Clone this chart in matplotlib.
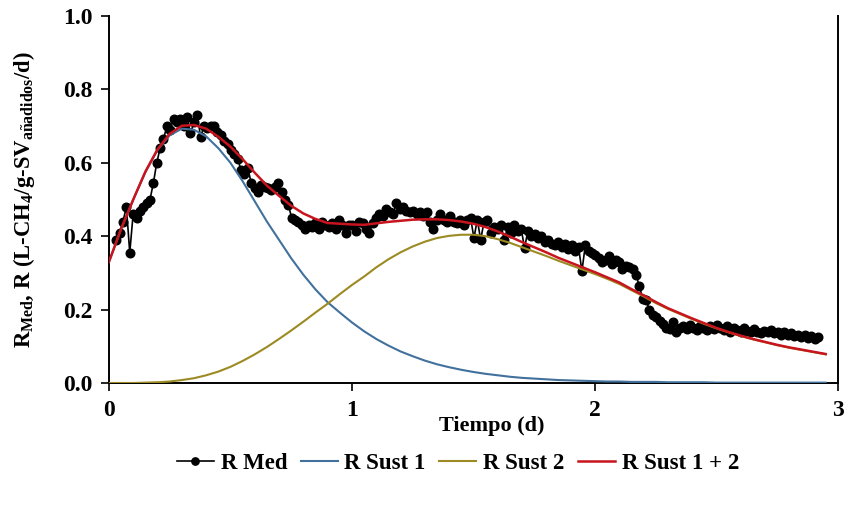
import matplotlib
matplotlib.use("Agg")
import matplotlib.pyplot as plt
import numpy as np

# measured methane production rate, one reading every 20 min from t = 0.03 d
r_med = [
    0.39, 0.41, 0.44, 0.48, 0.355, 0.46, 0.45, 0.47, 0.48, 0.49,
    0.50, 0.545, 0.60, 0.64, 0.665, 0.70, 0.69, 0.72, 0.71, 0.72,
    0.70, 0.725, 0.68, 0.71, 0.73, 0.67, 0.70, 0.695, 0.70, 0.70,
    0.685, 0.675, 0.66, 0.65, 0.635, 0.625, 0.61, 0.58, 0.57, 0.585,
    0.545, 0.53, 0.52, 0.54, 0.535, 0.53, 0.525, 0.535, 0.545, 0.52,
    0.50, 0.485, 0.45, 0.445, 0.44, 0.43, 0.42, 0.43, 0.425, 0.435,
    0.42, 0.44, 0.43, 0.425, 0.435, 0.42, 0.445, 0.43, 0.41, 0.43,
    0.43, 0.415, 0.44, 0.435, 0.42, 0.41, 0.435, 0.45, 0.46, 0.455,
    0.475, 0.465, 0.46, 0.49, 0.475, 0.48, 0.47, 0.465, 0.47, 0.46,
    0.465, 0.455, 0.465, 0.44, 0.42, 0.445, 0.46, 0.445, 0.44, 0.455,
    0.44, 0.435, 0.445, 0.43, 0.445, 0.45, 0.395, 0.445, 0.39, 0.44,
    0.445, 0.41, 0.425, 0.42, 0.43, 0.39, 0.425, 0.41, 0.43, 0.415,
    0.42, 0.368, 0.415, 0.40, 0.405, 0.395, 0.40, 0.385, 0.39, 0.38,
    0.375, 0.385, 0.37, 0.38, 0.365, 0.375, 0.36, 0.37, 0.305, 0.375,
    0.36, 0.355, 0.35, 0.34, 0.33, 0.335, 0.345, 0.325, 0.335, 0.33,
    0.31, 0.32, 0.315, 0.31, 0.295, 0.265, 0.23, 0.225, 0.20, 0.185,
    0.18, 0.17, 0.16, 0.15, 0.148, 0.165, 0.14, 0.15, 0.155, 0.148,
    0.158, 0.15, 0.145, 0.155, 0.15, 0.145, 0.155, 0.148, 0.158, 0.15,
    0.145, 0.155, 0.14, 0.15, 0.145, 0.14, 0.15, 0.142, 0.138, 0.148,
    0.14, 0.135, 0.142, 0.138, 0.145, 0.135, 0.14, 0.132, 0.138, 0.13,
    0.135, 0.128, 0.132, 0.125, 0.13, 0.122, 0.128, 0.12, 0.125,
]
t_med = 0.03 + np.arange(len(r_med)) / 72.0

# fitted substrate curves, sampled every 0.05 d from 0 to 2.95 d
t_fit = np.arange(60) * 0.05
r_sust1 = [
    0.330, 0.420, 0.500, 0.575, 0.635, 0.675, 0.693, 0.690, 0.672, 0.640,
    0.600, 0.550, 0.495, 0.440, 0.390, 0.340, 0.295, 0.255, 0.220, 0.192,
    0.165, 0.141, 0.120, 0.102, 0.086, 0.073, 0.061, 0.051, 0.043, 0.036,
    0.030, 0.025, 0.021, 0.017, 0.014, 0.012, 0.010, 0.008, 0.007, 0.006,
    0.005, 0.004, 0.004, 0.003, 0.003, 0.003, 0.002, 0.002, 0.002, 0.002,
    0.001, 0.001, 0.001, 0.001, 0.001, 0.001, 0.001, 0.001, 0.001, 0.001,
]
r_sust2 = [
    0.000, 0.000, 0.000, 0.001, 0.002, 0.004, 0.008, 0.013, 0.021, 0.031,
    0.044, 0.060, 0.078, 0.098, 0.120, 0.143, 0.167, 0.192, 0.216, 0.242,
    0.267, 0.290, 0.315, 0.337, 0.356, 0.372, 0.385, 0.395, 0.401, 0.404,
    0.404, 0.400, 0.392, 0.382, 0.370, 0.358, 0.346, 0.333, 0.321, 0.309,
    0.297, 0.284, 0.270, 0.253, 0.236, 0.218, 0.202, 0.188, 0.174, 0.161,
    0.149, 0.138, 0.128, 0.119, 0.111, 0.103, 0.096, 0.090, 0.084, 0.078,
]
r_total = np.array(r_sust1) + np.array(r_sust2)

plt.rcParams["font.family"] = "Liberation Serif"
plt.rcParams["font.weight"] = "bold"
plt.rcParams["mathtext.fontset"] = "custom"
plt.rcParams["mathtext.rm"] = "Liberation Serif:bold"
plt.rcParams["mathtext.it"] = "Liberation Serif:bold"
plt.rcParams["mathtext.bf"] = "Liberation Serif:bold"

fig = plt.figure(figsize=(8.48, 5.07), dpi=100)
ax = fig.add_axes([0.1285, 0.2446, 0.8595, 0.7238])

ax.plot(t_med, r_med, "-o", color="black", lw=1.2, ms=6.2, label="R Med", zorder=2)
ax.plot(t_fit, r_sust1, color="#41719C", lw=1.5, label="R Sust 1", zorder=3)
ax.plot(t_fit, r_sust2, color="#9C8A22", lw=1.5, label="R Sust 2", zorder=3)
ax.plot(t_fit, r_total, color="#C8141E", lw=1.8, label="R Sust 1 + 2", zorder=4)

ax.set_xlim(0, 3)
ax.set_ylim(0, 1.0)
ax.set_xticks([0, 1, 2, 3])
ax.set_yticks(np.arange(0, 1.01, 0.2))
ax.set_yticklabels([f"{v:.1f}" for v in np.arange(0, 1.01, 0.2)])
ax.tick_params(direction="out", length=6, width=1.2, labelsize=17, pad=6)
for lbl in ax.get_xticklabels() + ax.get_yticklabels():
    lbl.set_fontweight("bold")

for side in ["left", "bottom", "right"]:
    ax.spines[side].set_linewidth(1.4)
ax.spines["top"].set_visible(False)

ax.set_xlabel("Tiempo (d)", fontsize=16, fontweight="bold")
ax.xaxis.set_label_coords(0.525, -0.09)
ax.set_ylabel(r"R$_{\mathregular{Med}}$, R (L-CH$_4$/g-SV$_{\mathregular{añadidos}}$/d)",
              fontsize=16.3, fontweight="bold")
ax.yaxis.set_label_coords(-0.099, 0.5)

fig.legend(loc="center", bbox_to_anchor=(458 / 848, 1 - 463 / 507), ncol=4,
           frameon=False, fontsize=16.5, handlelength=1.6, handletextpad=0.3,
           columnspacing=0.6, markerscale=0.85)

fig.savefig("out.png", dpi=100)
